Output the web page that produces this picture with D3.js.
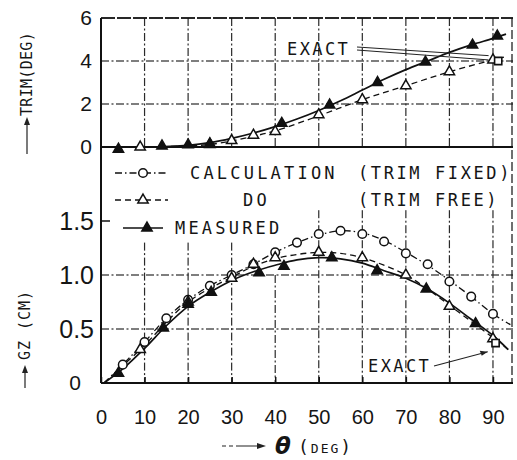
<!DOCTYPE html>
<html>
<head>
<meta charset="utf-8">
<script src="https://cdn.jsdelivr.net/npm/d3@7"></script>
<style>
body { margin: 0; background: #fff; }
svg { display: block; }
text { fill: #151515; }
.mono { font-family: "DejaVu Sans Mono", "Liberation Mono", monospace; }
.num { font-family: "Liberation Sans", Arial, sans-serif; }
</style>
</head>
<body>
<svg id="chart" width="517" height="460"></svg>
<script>
// ---- values ----
// top panel: trim (deg) against heel angle theta (deg)
var trimMeasTheta = [4, 14, 20, 25, 41.5, 52.5, 63.5, 74.5, 85.3, 91];
var trimMeas      = [-0.1, 0.05, 0.1, 0.15, 1.1, 1.95, 3.0, 3.95, 4.74, 5.16];
var trimFreeTheta = [9, 25, 30, 35, 40, 50, 60, 70, 80, 90];
var trimFree      = [0, 0.12, 0.3, 0.55, 0.72, 1.5, 2.2, 2.85, 3.5, 4.05];
var trimMeasCurveTheta = [0, 10, 20, 25, 30, 35, 40, 45, 50, 55, 60, 65, 70, 75, 80, 85, 90, 93];
var trimMeasCurve      = [0, 0, 0.08, 0.2, 0.4, 0.65, 0.95, 1.3, 1.7, 2.15, 2.65, 3.15, 3.6, 4.0, 4.4, 4.75, 5.05, 5.25];
var trimFreeCurveTheta = [0, 10, 20, 25, 30, 35, 40, 50, 60, 70, 80, 90, 93];
var trimFreeCurve      = [0, 0, 0.05, 0.12, 0.28, 0.5, 0.75, 1.45, 2.2, 2.85, 3.5, 4.05, 4.2];
var trimExactTheta = [91.2];
var trimExact      = [4.0];

// bottom panel: GZ (cm) against theta
var gzFixedTheta = [5, 10, 15, 20, 25, 30, 35, 40, 45, 50, 55, 60, 65, 70, 75, 80, 85, 90];
var gzFixed      = [0.17, 0.38, 0.6, 0.77, 0.9, 1.0, 1.1, 1.21, 1.3, 1.38, 1.41, 1.38, 1.31, 1.2, 1.1, 0.94, 0.8, 0.64];
var gzFreeTheta = [9, 20, 30, 35, 40, 50, 60, 70, 80, 90];
var gzFree      = [0.31, 0.75, 0.97, 1.1, 1.16, 1.21, 1.16, 1.0, 0.71, 0.41];
var gzMeasTheta = [4, 14.3, 20, 25.3, 36.3, 42, 53, 63.4, 74.7, 86];
var gzMeas      = [0.09, 0.51, 0.73, 0.84, 1.02, 1.08, 1.16, 1.04, 0.87, 0.55];
var gzFixedCurveTheta = [0.7, 5, 10, 15, 20, 25, 30, 35, 40, 45, 50, 55, 60, 65, 70, 75, 80, 85, 90, 94];
var gzFixedCurve      = [0, 0.17, 0.38, 0.6, 0.77, 0.9, 1.0, 1.1, 1.21, 1.3, 1.37, 1.41, 1.39, 1.32, 1.21, 1.09, 0.95, 0.8, 0.64, 0.54];
var gzFreeCurveTheta = [0.7, 9, 20, 30, 35, 40, 45, 50, 55, 60, 65, 70, 75, 80, 85, 90, 93.5];
var gzFreeCurve      = [0, 0.31, 0.75, 0.98, 1.08, 1.15, 1.19, 1.21, 1.2, 1.16, 1.09, 1.0, 0.87, 0.72, 0.57, 0.42, 0.31];
var gzMeasCurveTheta = [0.7, 5, 10, 15, 20, 25, 30, 35, 40, 45, 50, 55, 60, 65, 70, 75, 80, 85, 90, 93.5];
var gzMeasCurve      = [0, 0.13, 0.32, 0.53, 0.71, 0.84, 0.95, 1.03, 1.09, 1.14, 1.16, 1.15, 1.11, 1.04, 0.97, 0.87, 0.74, 0.59, 0.44, 0.31];
var gzExactTheta = [90.6];
var gzExact      = [0.37];

var thetaTicks = [0, 10, 20, 30, 40, 50, 60, 70, 80, 90];
var trimTicks = [0, 2, 4, 6];
var gzTicks = [0, 0.5, 1.0, 1.5];
var legendLabels = ["CALCULATION", "DO", "MEASURED"];
var legendNotes = ["(TRIM FIXED)", "(TRIM FREE)", ""];

var svg = d3.select("#chart");
var x = d3.scaleLinear().domain([0, 94.6]).range([101, 513]);
var yT = d3.scaleLinear().domain([0, 6]).range([147, 18]);
var yG = d3.scaleLinear().domain([0, 1.5]).range([383, 221]);

function zip(a, b) { return a.map(function (d, i) { return [d, b[i]]; }); }

// grid, drawn as small rects (dash-dot pieces) so it does not depend on stroke dashing
function dashRects(g, x1, y1, x2, y2, pattern, w) {
    var vertical = x1 === x2, len = vertical ? Math.abs(y2 - y1) : Math.abs(x2 - x1);
    var s = 0, k = 0, y0 = Math.min(y1, y2), x0 = Math.min(x1, x2);
    while (s < len) {
        var e = Math.min(s + pattern[k % pattern.length], len);
        if (k % 2 === 0) {
            if (vertical) g.append("rect").attr("x", x1 - w / 2).attr("y", y0 + s).attr("width", w).attr("height", e - s);
            else g.append("rect").attr("x", x0 + s).attr("y", y1 - w / 2).attr("width", e - s).attr("height", w);
        }
        s = e; k++;
    }
}
var gridPattern = [8, 2.5, 2, 2.5];
var grid = svg.append("g").attr("fill", "#2a2a2a");
thetaTicks.slice(1).forEach(function (d) {
    dashRects(grid, x(d), yT(0), x(d), yT(6), gridPattern, 1.2);
    // bottom panel verticals stop under the legend
    var top = d <= 30 ? 1.3 : d === 40 ? 1.0 : 1.6;
    dashRects(grid, x(d), yG(0), x(d), yG(top), gridPattern, 1.2);
});
[2, 4].forEach(function (d) { dashRects(grid, x(0), yT(d), x(94.6), yT(d), gridPattern, 1.2); });
[0.5, 1.0].forEach(function (d) { dashRects(grid, x(0), yG(d), x(94.6), yG(d), gridPattern, 1.2); });

// frame
var frame = svg.append("g").attr("fill", "#111");
dashRects(frame, x(0), yT(6), x(94.6), yT(6), [14, 2], 1.8);
dashRects(frame, x(94.6) - 1, yT(6), x(94.6) - 1, yG(0), [9, 3], 1.2);
svg.append("line").attr("x1", x(0)).attr("x2", x(94.6)).attr("y1", yT(0)).attr("y2", yT(0))
    .attr("stroke", "#111").attr("stroke-width", 2);
svg.append("line").attr("x1", x(0)).attr("x2", x(94.6)).attr("y1", yG(0)).attr("y2", yG(0))
    .attr("stroke", "#111").attr("stroke-width", 2);
svg.append("line").attr("x1", x(0)).attr("x2", x(0)).attr("y1", yT(6)).attr("y2", yG(0))
    .attr("stroke", "#111").attr("stroke-width", 2);
svg.append("line").attr("x1", x(0)).attr("x2", x(0) + 9).attr("y1", yG(1.5)).attr("y2", yG(1.5))
    .attr("stroke", "#111").attr("stroke-width", 1.5);

// axes
var xAxis = svg.append("g").attr("transform", "translate(0," + yG(0) + ")")
    .call(d3.axisBottom(x).tickValues(thetaTicks).tickSize(-6).tickPadding(27).tickFormat(d3.format("d")));
xAxis.select(".domain").remove();
xAxis.selectAll("line").attr("stroke", "#111").attr("stroke-width", 1.5);
xAxis.selectAll("text").attr("class", "num").style("font-size", "20px").attr("fill", "#151515");

var yTAxis = svg.append("g").attr("transform", "translate(" + x(0) + ",0)")
    .call(d3.axisLeft(yT).tickValues(trimTicks).tickSize(0).tickPadding(9).tickFormat(d3.format("d")));
yTAxis.select(".domain").remove();
yTAxis.selectAll("text").attr("class", "num").style("font-size", "21px").attr("fill", "#151515");

var yGAxis = svg.append("g").attr("transform", "translate(" + x(0) + ",0)")
    .call(d3.axisLeft(yG).tickValues(gzTicks).tickSize(0).tickPadding(7)
        .tickFormat(function (d) { return d === 0 ? "0" : d3.format(".1f")(d); }));
yGAxis.select(".domain").remove();
yGAxis.selectAll("text").attr("class", "num").style("font-size", "25px").attr("fill", "#151515");
yGAxis.selectAll("text").filter(function (d) { return d === 0; })
    .attr("x", -26).attr("text-anchor", "middle").style("font-size", "21px");

// curves
var line = function (sx, sy) {
    return d3.line().x(function (d) { return sx(d[0]); }).y(function (d) { return sy(d[1]); })
        .curve(d3.curveCatmullRom.alpha(0.5));
};
var styles = {
    fixed: { dash: "7,3,1.5,3", width: 1.3 },
    free: { dash: "6,4", width: 1.3 },
    meas: { dash: null, width: 1.7 }
};
function drawCurve(px, py, sy, st) {
    svg.append("path").datum(zip(px, py)).attr("d", line(x, sy))
        .attr("fill", "none").attr("stroke", "#111")
        .attr("stroke-width", st.width).attr("stroke-dasharray", st.dash);
}
drawCurve(trimFreeCurveTheta, trimFreeCurve, yT, styles.free);
drawCurve(trimMeasCurveTheta, trimMeasCurve, yT, styles.meas);
drawCurve(gzFixedCurveTheta, gzFixedCurve, yG, styles.fixed);
drawCurve(gzFreeCurveTheta, gzFreeCurve, yG, styles.free);
drawCurve(gzMeasCurveTheta, gzMeasCurve, yG, styles.meas);

// markers
var tri = d3.symbol().type(d3.symbolTriangle).size(46);
var sq = d3.symbol().type(d3.symbolSquare).size(52);
function drawTri(px, py, sy, filled) {
    svg.append("g").selectAll("path").data(zip(px, py)).enter().append("path")
        .attr("d", tri).attr("transform", function (d) { return "translate(" + x(d[0]) + "," + sy(d[1]) + ")"; })
        .attr("fill", filled ? "#111" : "#fff").attr("stroke", "#111").attr("stroke-width", 1.5);
}
function drawCircle(px, py, sy) {
    svg.append("g").selectAll("circle").data(zip(px, py)).enter().append("circle")
        .attr("cx", function (d) { return x(d[0]); }).attr("cy", function (d) { return sy(d[1]); })
        .attr("r", 4.3).attr("fill", "#fff").attr("stroke", "#111").attr("stroke-width", 1.5);
}
function drawSquare(px, py, sy) {
    svg.append("g").selectAll("path").data(zip(px, py)).enter().append("path")
        .attr("d", sq).attr("transform", function (d) { return "translate(" + x(d[0]) + "," + sy(d[1]) + ")"; })
        .attr("fill", "#fff").attr("stroke", "#111").attr("stroke-width", 1.6);
}
drawTri(trimFreeTheta, trimFree, yT, false);
drawTri(trimMeasTheta, trimMeas, yT, true);
drawSquare(trimExactTheta, trimExact, yT);
drawCircle(gzFixedTheta, gzFixed, yG);
drawTri(gzFreeTheta, gzFree, yG, false);
drawTri(gzMeasTheta, gzMeas, yG, true);
drawSquare(gzExactTheta, gzExact, yG);

// legend
var lg = svg.append("g");
var rows = [173, 200, 228];
var keys = ["fixed", "free", "meas"];
rows.forEach(function (ry, i) {
    var st = styles[keys[i]];
    var x0 = i === 2 ? 123 : 115, x1 = i === 2 ? 163 : 168, xm = i === 2 ? 147 : 143;
    lg.append("line").attr("x1", x0).attr("x2", x1).attr("y1", ry).attr("y2", ry)
        .attr("stroke", "#111").attr("stroke-width", st.width).attr("stroke-dasharray", st.dash);
    if (i === 0) {
        lg.append("circle").attr("cx", xm).attr("cy", ry).attr("r", 4.3)
            .attr("fill", "#fff").attr("stroke", "#111").attr("stroke-width", 1.5);
    } else {
        lg.append("path").attr("d", tri).attr("transform", "translate(" + xm + "," + ry + ")")
            .attr("fill", i === 2 ? "#111" : "#fff").attr("stroke", "#111").attr("stroke-width", 1.5);
    }
    lg.append("text").attr("class", "mono").attr("x", [190, 243, 175][i]).attr("y", ry + 6)
        .style("font-size", "17px").style("letter-spacing", "3.2px").text(legendLabels[i]);
    if (legendNotes[i]) {
        lg.append("text").attr("class", "mono").attr("x", 358).attr("y", ry + 6)
            .style("font-size", "17px").style("letter-spacing", "2.6px").text(legendNotes[i]);
    }
});

// EXACT annotations
svg.append("text").attr("class", "mono").attr("x", 287).attr("y", 55)
    .style("font-size", "17px").style("letter-spacing", "2.4px").text("EXACT");
svg.append("line").attr("x1", 357).attr("y1", 47).attr("x2", x(89)).attr("y2", yT(4.25))
    .attr("stroke", "#222").attr("stroke-width", 1);
svg.append("line").attr("x1", 357).attr("y1", 50).attr("x2", x(89)).attr("y2", yT(4.05))
    .attr("stroke", "#222").attr("stroke-width", 1);

svg.append("text").attr("class", "mono").attr("x", 368).attr("y", 372)
    .style("font-size", "17px").style("letter-spacing", "2.4px").text("EXACT");
var ax0 = 434, ay0 = 366, ax1 = x(88.8), ay1 = yG(0.29);
svg.append("line").attr("x1", ax0).attr("y1", ay0).attr("x2", ax1).attr("y2", ay1)
    .attr("stroke", "#222").attr("stroke-width", 1.1);
svg.append("path").attr("d", "M" + ax1 + "," + ay1 + "l-8,-1l2,5z").attr("fill", "#222");

// axis titles
var tt = svg.append("g").attr("transform", "translate(27,74) rotate(-90)");
tt.append("text").attr("class", "mono").attr("text-anchor", "middle").attr("dy", "0.36em")
    .style("font-size", "15px").style("letter-spacing", "0.3px").text("TRIM(DEG)");
svg.append("line").attr("x1", 27).attr("x2", 27).attr("y1", 154).attr("y2", 122)
    .attr("stroke", "#222").attr("stroke-width", 1.2);
svg.append("path").attr("d", "M27,117l-3,8h6z").attr("fill", "#222");

var gt = svg.append("g").attr("transform", "translate(25,325) rotate(-90)");
gt.append("text").attr("class", "mono").attr("text-anchor", "middle").attr("dy", "0.36em")
    .style("font-size", "15px").style("letter-spacing", "1px").text("GZ (CM)");
svg.append("line").attr("x1", 25).attr("x2", 25).attr("y1", 388).attr("y2", 370)
    .attr("stroke", "#222").attr("stroke-width", 1.2);
svg.append("path").attr("d", "M25,365l-3,8h6z").attr("fill", "#222");

svg.append("line").attr("x1", 222).attr("x2", 258).attr("y1", 446).attr("y2", 446)
    .attr("stroke", "#222").attr("stroke-width", 1.2).attr("stroke-dasharray", "4,3,4,3,30");
svg.append("path").attr("d", "M266,446l-9,-3v6z").attr("fill", "#222");
svg.append("text").attr("x", 283).attr("y", 454).attr("text-anchor", "middle")
    .style("font-family", "DejaVu Sans, sans-serif").style("font-weight", "bold")
    .style("font-style", "italic").style("font-size", "23px").text("θ");
var dt = svg.append("text").attr("class", "mono").attr("x", 298).attr("y", 453).style("letter-spacing", "2px");
dt.append("tspan").style("font-size", "18px").text("(");
dt.append("tspan").style("font-size", "13px").text("DEG");
dt.append("tspan").style("font-size", "18px").text(")");
</script>
</body>
</html>
